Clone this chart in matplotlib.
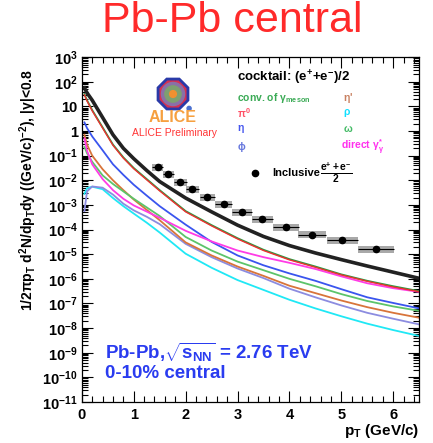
import numpy as np
import matplotlib.pyplot as plt
from matplotlib.patches import Rectangle, RegularPolygon, Circle
from matplotlib.ticker import FixedLocator, FixedFormatter, MultipleLocator

plt.rcParams['font.family'] = ['Liberation Sans', 'DejaVu Sans']
plt.rcParams['font.weight'] = 'bold'
plt.rcParams['mathtext.fontset'] = 'custom'
plt.rcParams['mathtext.rm'] = 'Liberation Sans:bold'
plt.rcParams['mathtext.it'] = 'Liberation Sans:bold:italic'
plt.rcParams['mathtext.bf'] = 'Liberation Sans:bold'
plt.rcParams['mathtext.default'] = 'rm'

# ------------------------------------------------------------------
# cocktail components, log10 of 1/(2 pi pT) d2N/dpTdy on a common pT grid
# ------------------------------------------------------------------
pt = [0.05, 0.1, 0.2, 0.4, 0.6, 0.8, 1.0, 1.25, 1.5, 2.0, 2.5, 3.0, 3.5,
      4.0, 4.5, 5.0, 5.5, 6.0, 6.5]

log_total = [1.75, 1.55, 1.25, 0.55, -0.15, -0.70, -1.12, -1.60, -2.05, -2.72,
             -3.28, -3.82, -4.28, -4.65, -4.95, -5.22, -5.48, -5.73, -5.98]
log_conv = [1.50, 1.25, 0.85, 0.15, -0.55, -1.07, -1.50, -1.95, -2.40, -3.25,
            -3.82, -4.35, -4.82, -5.20, -5.50, -5.82, -6.08, -6.30, -6.50]
log_pi0 = [1.47, 1.22, 0.82, 0.12, -0.58, -1.10, -1.53, -1.98, -2.43, -3.28,
           -3.85, -4.38, -4.85, -5.23, -5.53, -5.84, -6.10, -6.33, -6.52]
log_eta = [0.35, 0.12, -0.22, -0.78, -1.35, -1.78, -2.18, -2.62, -3.05, -3.80,
           -4.50, -5.05, -5.45, -5.78, -6.08, -6.42, -6.75, -6.98, -7.20]
log_direct = [-0.30, -0.80, -1.35, -1.95, -2.40, -2.75, -3.02, -3.27, -3.52, -4.05,
              -4.48, -4.85, -5.12, -5.35, -5.60, -5.90, -6.18, -6.38, -6.53]
log_omega = [-0.65, -0.90, -1.25, -1.80, -2.15, -2.45, -2.75, -3.10, -3.45, -4.30,
             -4.85, -5.30, -5.65, -6.00, -6.30, -6.62, -6.90, -7.12, -7.30]
log_etap = [-0.15, -0.55, -1.00, -1.55, -2.00, -2.40, -2.78, -3.20, -3.62, -4.52,
            -5.05, -5.50, -5.88, -6.28, -6.58, -6.88, -7.15, -7.38, -7.58]
log_phi = [-3.25, -2.45, -2.25, -2.30, -2.58, -2.95, -3.22, -3.48, -3.78, -4.58,
           -5.12, -5.58, -5.97, -6.40, -6.75, -7.08, -7.38, -7.62, -7.85]
log_rho = [-2.55, -2.32, -2.26, -2.36, -2.72, -3.05, -3.35, -3.72, -4.12, -4.98,
           -5.55, -6.05, -6.45, -6.85, -7.20, -7.52, -7.82, -8.08, -8.32]

# inclusive electrons, (e+ + e-)/2
incl_pt = [1.46, 1.67, 1.90, 2.13, 2.42, 2.73, 3.08, 3.48, 3.94, 4.44, 5.02, 5.67]
incl_halfwidth = [0.10, 0.11, 0.12, 0.12, 0.15, 0.16, 0.19, 0.21, 0.25, 0.27, 0.30, 0.35]
incl_y = [3.39e-2, 1.74e-2, 8.3e-3, 4.27e-3, 2.04e-3, 1.05e-3, 5.0e-4, 2.57e-4,
          1.23e-4, 6.3e-5, 3.6e-5, 1.58e-5]
incl_sys = [0.4] * 12

# ------------------------------------------------------------------
fig = plt.figure(figsize=(4.33, 4.43), dpi=100)
ax = fig.add_axes([0.189, 0.0926, 0.779, 0.7784])

curves = [
    (log_rho, '#20e8f5', 1.3),
    (log_phi, '#8c8ce0', 1.3),
    (log_etap, '#d8743a', 1.3),
    (log_omega, '#5cc46a', 1.3),
    (log_eta, '#3a55ee', 1.3),
    (log_direct, '#ff3ce6', 1.3),
    (log_conv, '#2a9a40', 1.3),
    (log_pi0, '#ee3030', 1.0),
    (log_total, '#222222', 2.6),
]
for vals, col, lw in curves:
    ax.plot(pt, 10.0 ** np.array(vals), color=col, lw=lw, solid_joinstyle='round')

# systematic boxes + points
for x, hw, y, s in zip(incl_pt, incl_halfwidth, incl_y, incl_sys):
    ax.add_patch(Rectangle((x - hw, y / (1 + s)), 2 * hw, y * (1 + s) - y / (1 + s),
                           facecolor='#9a9a9a', edgecolor='none', alpha=0.85, zorder=3))
ax.errorbar(incl_pt, incl_y, xerr=incl_halfwidth, fmt='o', color='black', ms=4.5,
            elinewidth=0.8, capsize=0, zorder=4)

ax.set_yscale('log')
ax.set_xlim(0, 6.5)
ax.set_ylim(1e-11, 1e3)

# ROOT-like ticks
exps = list(range(-11, 4))
labels = []
for e in exps:
    if e == 0:
        labels.append('1')
    elif e == 1:
        labels.append('10')
    else:
        labels.append(r'$10^{%d}$' % e)
ax.yaxis.set_major_locator(FixedLocator([10.0 ** e for e in exps]))
ax.yaxis.set_major_formatter(FixedFormatter(labels))
minor = [m * 10.0 ** e for e in range(-11, 3) for m in range(2, 10)]
ax.yaxis.set_minor_locator(FixedLocator(minor))
ax.xaxis.set_major_locator(MultipleLocator(1))
ax.xaxis.set_minor_locator(MultipleLocator(0.2))
ax.tick_params(which='both', direction='in', top=True, right=True, width=0.8)
ax.tick_params(which='major', length=8, labelsize=10.5, pad=4)
ax.tick_params(which='minor', length=4)
ax.tick_params(axis='y', pad=3)
for sp in ax.spines.values():
    sp.set_linewidth(0.9)

fig.text(0.882, 0.026, r'p$_{T}$ (GeV/c)', fontsize=11, ha='center', va='center')
fig.text(0.065, 0.571, r'1/2$\pi$p$_{T}$ d$^{2}$N/dp$_{T}$dy ((GeV/c)$^{-2}$), |y|<0.8',
         rotation=90, fontsize=10, ha='center', va='center')

fig.text(0.536, 0.952, 'Pb-Pb central', color='#ff2a2a', fontsize=31,
         fontweight='normal', ha='center', va='center')

# legend block
fig.text(0.547, 0.824, r'cocktail: (e$^{+}$+e$^{-}$)/2', fontsize=9.5, va='center')
legend_items = [
    (0.547, 0.779, r'conv. of $\gamma_{meson}$', '#3aaa55'),
    (0.792, 0.779, r"$\eta$'", '#c88060'),
    (0.547, 0.745, r'$\pi^{0}$', '#ff5066'),
    (0.792, 0.745, r'$\rho$', '#10e0ff'),
    (0.547, 0.708, r'$\eta$', '#4455ee'),
    (0.792, 0.708, r'$\omega$', '#44bb66'),
    (0.547, 0.668, r'$\phi$', '#6677dd'),
    (0.788, 0.668, r'direct $\gamma^{*}_{\gamma}$', '#ff30ee'),
]
for x, y, txt, col in legend_items:
    fig.text(x, y, txt, color=col, fontsize=7.5, va='center')

ax.plot([3.33], [1.9e-2], 'o', color='black', ms=4.5)
fig.text(0.628, 0.609, 'Inclusive', fontsize=8, va='center')
fig.text(0.738, 0.609, r'$\frac{e^{+}+e^{-}}{2}$', fontsize=10.5, va='center')

# collaboration logo
lax = fig.add_axes([(173 - 20) / 433, 1 - 111 / 443, 40 / 433, 34 / 443])
lax.set_xlim(-1.18, 1.18)
lax.set_ylim(-1.0, 1.0)
lax.set_aspect('equal')
lax.axis('off')
lax.add_patch(RegularPolygon((0, 0), 8, radius=1.0, orientation=np.pi / 8, color='#2a3aa8'))
lax.add_patch(RegularPolygon((0, 0), 8, radius=0.82, orientation=np.pi / 8, color='#d83050'))
lax.add_patch(Circle((0, 0), 0.68, color='#8a70a8'))
lax.add_patch(Circle((0, 0), 0.48, color='#7ea070'))
lax.add_patch(Circle((0, 0), 0.2, color='#f09030'))
lax.add_patch(Circle((0.95, -0.85), 0.12, color='#4a70d0'))
fig.text(173 / 433, 1 - 118 / 443, 'ALICE', color='#f6a040', fontsize=11.5,
         ha='center', va='center')
fig.text(175 / 433, 1 - 133 / 443, 'ALICE Preliminary', color='#ff3535', fontsize=7.5,
         fontweight='normal', ha='center', va='center')

# system label
fig.text(0.243, 1 - 352 / 443, r'Pb-Pb,$\sqrt{s_{NN}}$ = 2.76 TeV', color='#2a3cf0',
         fontsize=13.5, va='center')
fig.text(0.243, 1 - 374 / 443, '0-10% central', color='#2a3cf0', fontsize=13.5, va='center')

fig.savefig('out.png', dpi=100)
